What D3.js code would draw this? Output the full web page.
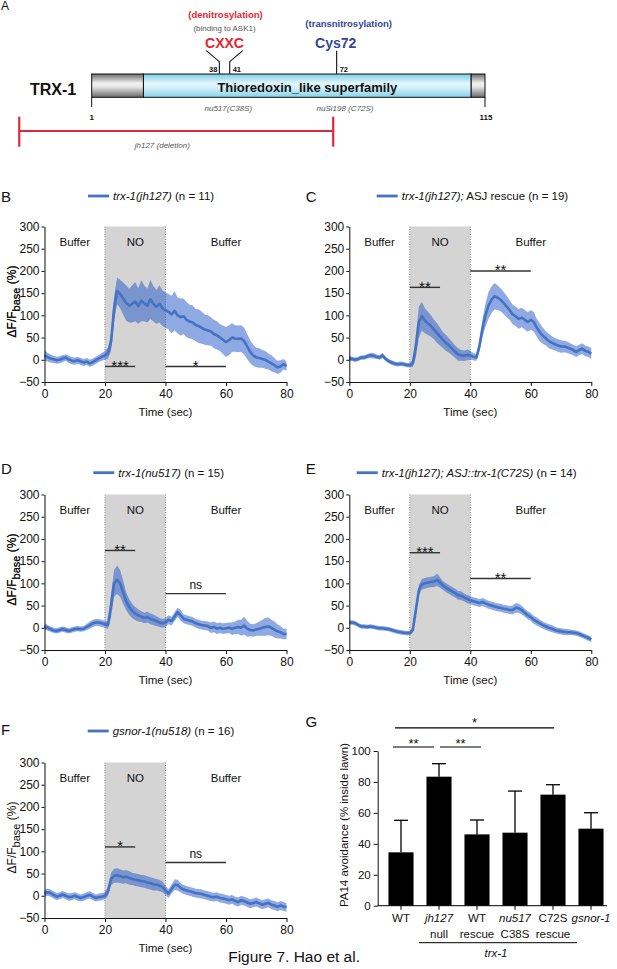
<!doctype html>
<html lang="en">
<head>
<meta charset="utf-8">
<title>Figure 7. Hao et al.</title>
<style>
  body { margin: 0; background: #fff; }
  svg { display: block; font-family: Arial, "Liberation Sans", sans-serif; }
</style>
</head>
<body>
<svg id="fig" width="617" height="969"></svg>
<script src="https://d3js.org/d3.v7.min.js"></script>
<script>
// ---- panel A: TRX-1 domain map (residue numbers) ----
var proteinLength = [1, 115];
var domainStart = [1, 16, 111];
var domainEnd = [16, 111, 115];
var domainKind = ["gray", "cyan", "gray"];
var domainName = ["", "Thioredoxin_like superfamily", ""];
var siteResidues = [38, 41, 72];
var deletionRange = [-20, 71];

// ---- panels B-F: GCaMP traces, one sample per second ----
var time = d3.range(0, 81);
var timeTicks = [0, 20, 40, 60, 80];
var dffTicks = [-50, 0, 50, 100, 150, 200, 250, 300];
var phaseNames = ["Buffer", "NO", "Buffer"];
var phaseBounds = [0, 20, 40, 80];

var bMean = [10,6,3,1,-1,0,3,5,1,-2, -3,-1,-4,-6,-4,-8,-5,-1,3,7,
  10,15,40,115,155,148,138,128,122,126, 131,121,133,127,122,136,126,119,126,116,
  112,108,102,110,100,96,98,90,86,84, 78,76,72,68,66,64,58,55,50,45,
  40,44,50,48,47,48,42,30,18,10, 5,4,2,0,-4,-8,-12,-17,-15,-10, -14];
var bSem = [12,10,9,8,8,8,8,7,8,8, 8,8,8,8,8,8,8,8,8,9, 10,
  12,20,28,30,32,36,40,38,42,44, 40,46,40,38,44,40,38,42,40,40,
  40,42,44,40,42,40,40,38,38,36, 38,36,34,34,32,32,32,30,32,34,
  34,32,30,30,30,30,28,26,24,22, 22,20,20,18,18,16,15,14,12,10];

var cMean = [3,2,0,2,5,5,8,10,9,7, 5,10,2,-3,-6,-9,-10,-9,-10,-12,
  -12,-8,30,85,98,88,82,76,68,60, 52,44,38,32,25,18,12,10,9,11,
  10,7,5,30,70,100,122,135,143,140, 135,128,120,112,102,98,92,95,90,85,
  90,85,72,62,54,48,42,38,35,32, 30,30,28,25,22,18,22,25,20,18, 14];
var cSem = [6,5,5,5,5,5,5,6,6,5, 5,6,5,5,5,5,5,5,5,5, 5,
  8,25,35,32,28,26,24,22,22,20, 18,18,16,15,14,14,12,12,12,10,
  8,8,12,20,26,30,30,30,28,26, 25,24,22,22,22,22,22,22,22,22,
  22,20,20,18,16,16,15,14,14,14, 13,13,12,12,12,12,12,12,12,12];

var dMean = [3,0,-3,-6,-7,-5,-3,-5,-7,-5, -3,-2,-3,-2,2,6,10,12,12,10,
  8,6,50,100,108,100,80,60,47,38, 32,28,25,22,24,20,18,15,12,10,
  12,18,15,25,35,28,20,18,16,14, 10,8,6,5,4,0,2,-2,0,-2,
  -1,0,-2,0,2,0,5,-2,-5,-6, -4,-2,0,2,3,0,-4,-8,-10,-14, -14];
var dSem = [7,6,6,6,6,6,6,6,6,6, 6,6,6,6,7,8,8,8,8,8, 8,
  8,25,30,32,30,26,20,18,16,15, 14,12,12,12,12,12,11,10,10,10,
  10,10,10,10,12,10,10,10,10,10, 10,10,10,10,12,12,12,12,12,12,
  12,14,14,16,18,20,18,14,14,14, 16,18,20,20,18,18,16,14,12,12];

var eMean = [12,12,10,6,3,3,2,3,2,0, -1,-1,-2,-3,-5,-7,-9,-10,-11,-12,
  -12,-5,40,85,98,100,102,103,104,108, 102,95,90,86,82,78,73,72,68,65,
  62,60,58,56,58,55,52,50,48,46, 45,43,42,40,40,45,44,40,34,28,
  24,18,14,10,6,3,0,-2,-5,-7, -8,-9,-10,-10,-11,-12,-14,-17,-20,-23, -26];
var eSem = [5,5,5,5,5,5,5,5,5,5, 5,5,5,5,5,5,5,5,5,5, 5,
  6,10,12,12,12,12,12,12,14,12, 10,10,10,10,10,10,10,9,9,9,
  9,9,9,9,9,9,9,9,9,9, 9,9,9,10,11,10,10,9,9,9,
  9,9,8,8,8,8,8,7,7,7, 7,7,6,6,6,6,6,6,6,6];

var fMean = [5,8,6,2,-2,0,3,0,-3,-2, 0,-3,-5,-3,0,2,-2,-5,-3,-2,
  0,10,38,45,46,44,42,43,40,38, 36,35,33,32,30,28,26,25,23,20,
  12,5,15,25,24,18,14,12,10,8, 6,5,4,2,0,-2,-3,-2,-5,-6,
  -8,-10,-8,-12,-14,-10,-12,-15,-18,-16, -14,-17,-20,-18,-16,-20,-22,-25,-22,-24, -26];
var fSem = [8,8,8,8,8,8,8,8,8,8, 8,8,8,8,8,8,8,8,8,8, 8,
  10,14,16,16,16,15,15,15,14,14, 14,14,14,14,14,14,13,13,12,10,
  10,10,12,12,10,10,10,10,10,10, 10,10,10,10,10,10,10,10,10,10,
  10,10,10,10,10,10,10,10,10,10, 10,10,10,10,10,10,10,10,10,10];

// significance bars: [from sec, to sec, level (%), label]
var bSig = [[20, 30, -15, "***"], [40, 60, -15, "*"]];
var cSig = [[20, 30, 163, "**"], [40, 60, 200, "**"]];
var dSig = [[20, 30, 174, "**"], [40, 60, 77, "ns"]];
var eSig = [[20, 30, 169, "***"], [40, 60, 111, "**"]];
var fSig = [[20, 30, 110, "*"], [40, 60, 75, "ns"]];

// ---- panel G: PA14 avoidance ----
var gCategories = ["WT", "jh127", "WT rescue", "nu517", "C72S", "gsnor-1"];
var gLine1 = ["WT", "jh127", "WT", "nu517", "C72S", "gsnor-1"];
var gLine2 = ["", "null", "rescue", "C38S", "rescue", ""];
var gItalic = [false, true, false, true, false, true];
var gMeans = [34.5, 83.4, 46.1, 47.2, 71.8, 49.8];
var gErrors = [20.7, 8.4, 9.3, 26.9, 6.4, 10.3];
var gTicks = [0, 20, 40, 60, 80, 100];

var svg = d3.select("#fig");
var blue = "#4472c4";
var defs = svg.append("defs");

//Vertical shading gradients for the protein bar
var gGray = defs.append("linearGradient").attr("id", "gray").attr("x1", 0).attr("y1", 0).attr("x2", 0).attr("y2", 1);
[[0, "#6c6c6c"], [0.4, "#f2f2f2"], [0.55, "#e6e6e6"], [1, "#6a6a6a"]].forEach(function(s) {
    gGray.append("stop").attr("offset", s[0]).attr("stop-color", s[1]);
});
var gCyan = defs.append("linearGradient").attr("id", "cyan").attr("x1", 0).attr("y1", 0).attr("x2", 0).attr("y2", 1);
[[0, "#79cce6"], [0.4, "#e4f6fb"], [0.6, "#d2f0f9"], [1, "#84d2ea"]].forEach(function(s) {
    gCyan.append("stop").attr("offset", s[0]).attr("stop-color", s[1]);
});

function txt(x, y, s, size, opts) {
    opts = opts || {};
    return svg.append("text").attr("x", x).attr("y", y).text(s)
        .attr("font-size", size + "px")
        .attr("text-anchor", opts.anchor || "middle")
        .attr("font-weight", opts.bold ? "bold" : null)
        .attr("font-style", opts.italic ? "italic" : null)
        .attr("fill", opts.fill || "#111");
}

// ================= Panel A =================
txt(1, 10, "A", 12, {anchor: "start"});
var rx = d3.scaleLinear().domain(proteinLength).range([91.7, 485]);
var barTop = 74, barBottom = 97.3;

svg.selectAll("rect.domain").data(domainStart).enter().append("rect")
    .attr("class", "domain")
    .attr("x", function(d) { return rx(d); })
    .attr("y", barTop)
    .attr("width", function(d, i) { return rx(domainEnd[i]) - rx(d); })
    .attr("height", barBottom - barTop)
    .attr("fill", function(d, i) { return "url(#" + domainKind[i] + ")"; })
    .attr("stroke", "#111").attr("stroke-width", 1);
domainName.forEach(function(n, i) {
    if (n) txt((rx(domainStart[i]) + rx(domainEnd[i])) / 2, 91.5, n, 13, {bold: true});
});
txt(53, 95, "TRX-1", 16, {bold: true});

// end ticks and residue numbers
proteinLength.forEach(function(r) {
    svg.append("line").attr("x1", rx(r)).attr("x2", rx(r)).attr("y1", barBottom).attr("y2", 107)
        .attr("stroke", "#111").attr("stroke-width", 1);
    txt(rx(r) + (r > 1 ? 1 : 0), 120, String(r), 8, {bold: true});
});

// cysteine sites
var siteBend = [-1, 1, 0];
siteResidues.forEach(function(r, i) {
    var x = rx(r);
    var pts = siteBend[i] === 0 ? [[x, barTop], [x, 50.7]]
        : [[x, barTop], [x, 61.7], [x + siteBend[i] * 13, 50.7]];
    svg.append("path").attr("d", d3.line()(pts)).attr("fill", "none")
        .attr("stroke", "#111").attr("stroke-width", 1.1);
    txt(siteBend[i] < 0 ? x - 2 : x + 3, 71.5, String(r), 7.5, {bold: true, anchor: siteBend[i] < 0 ? "end" : "start"});
});
var cxxcX = (rx(siteResidues[0]) + rx(siteResidues[1])) / 2;
txt(cxxcX + 1, 17.5, "(denitrosylation)", 9.5, {bold: true, fill: "#e3262e"});
txt(cxxcX, 31, "(binding to ASK1)", 8, {fill: "#555"});
txt(cxxcX, 48, "CXXC", 14, {bold: true, fill: "#e3262e"});
txt(rx(siteResidues[2]) + 12, 26.5, "(transnitrosylation)", 9.5, {bold: true, fill: "#34469a"});
txt(rx(siteResidues[2]) - 1, 48, "Cys72", 14, {bold: true, fill: "#34469a"});
txt(228.3, 111, "nu517(C38S)", 8, {italic: true, fill: "#555"});
txt(345, 111, "nuSi198 (C72S)", 8, {italic: true, fill: "#555"});

// jh127 deletion
var red = "#e0283c";
svg.append("line").attr("x1", rx(deletionRange[0])).attr("x2", rx(deletionRange[1]))
    .attr("y1", 131).attr("y2", 131).attr("stroke", red).attr("stroke-width", 2.2);
deletionRange.forEach(function(r) {
    svg.append("line").attr("x1", rx(r)).attr("x2", rx(r)).attr("y1", 116.7).attr("y2", 146.7)
        .attr("stroke", red).attr("stroke-width", 2.2);
});
txt(162.3, 148, "jh127 (deletion)", 8, {italic: true, fill: "#555"});

// ================= Panels B-F =================
var traceW = 242, traceH = 155.5;
var panels = [
    {letter: "B", x0: 44.5, y0: 226.5, letterY: 201.7, legX: 88, legY: 196, mean: bMean, sem: bSem, sig: bSig,
     legend: [["trx-1(jh127)", true], [" (n = 11)", false]]},
    {letter: "C", x0: 349.3, y0: 226.5, letterY: 201.7, legX: 376.7, legY: 196, mean: cMean, sem: cSem, sig: cSig,
     legend: [["trx-1(jh127);", true], [" ASJ rescue (n = 19)", false]]},
    {letter: "D", x0: 44.5, y0: 494.5, letterY: 474, legX: 93.3, legY: 472.7, mean: dMean, sem: dSem, sig: dSig,
     legend: [["trx-1(nu517)", true], [" (n = 15)", false]]},
    {letter: "E", x0: 349.3, y0: 494.5, letterY: 474, legX: 356.7, legY: 472.7, mean: eMean, sem: eSem, sig: eSig,
     legend: [["trx-1(jh127); ASJ::trx-1(C72S)", true], [" (n = 14)", false]]},
    {letter: "F", x0: 44.5, y0: 762.5, letterY: 735, legX: 87.7, legY: 731, mean: fMean, sem: fSem, sig: fSig,
     legend: [["gsnor-1(nu518)", true], [" (n = 16)", false]]}
];

function styleAxis(g, size) {
    g.selectAll("path, line").attr("stroke", "#111").attr("stroke-width", 1);
    g.selectAll("text").attr("font-size", size + "px").attr("fill", "#111")
        .attr("font-family", 'Arial, "Liberation Sans", sans-serif');
}

panels.forEach(function(p) {
    var x = d3.scaleLinear().domain([0, 80]).range([p.x0, p.x0 + traceW]);
    var y = d3.scaleLinear().domain([-50, 300]).range([p.y0 + traceH, p.y0]);
    var g = svg.append("g");

    //NO application window
    g.append("rect").attr("x", x(phaseBounds[1])).attr("y", y(300))
        .attr("width", x(phaseBounds[2]) - x(phaseBounds[1]))
        .attr("height", y(-50) - y(300)).attr("fill", "#d4d4d4");
    [phaseBounds[1], phaseBounds[2]].forEach(function(t) {
        g.append("line").attr("x1", x(t)).attr("x2", x(t)).attr("y1", y(300)).attr("y2", y(-50))
            .attr("stroke", "#8a8a8a").attr("stroke-width", 1).attr("stroke-dasharray", "1,1.5");
    });
    phaseNames.forEach(function(n, i) {
        g.append("text").attr("x", x((phaseBounds[i] + phaseBounds[i + 1]) / 2)).attr("y", p.y0 + 19.5)
            .attr("text-anchor", "middle").attr("font-size", "11.5px").attr("fill", "#111").text(n);
    });

    var rows = time.map(function(t, i) { return {t: t, m: p.mean[i], s: p.sem[i]}; });
    g.append("path").datum(rows)
        .attr("d", d3.area().x(function(d) { return x(d.t); })
            .y0(function(d) { return y(d.m - d.s); })
            .y1(function(d) { return y(d.m + d.s); }))
        .attr("fill", "rgb(40,90,200)").attr("fill-opacity", 0.52);
    g.append("path").datum(rows)
        .attr("d", d3.line().x(function(d) { return x(d.t); }).y(function(d) { return y(d.m); }))
        .attr("fill", "none").attr("stroke", blue).attr("stroke-width", 2.6).attr("stroke-linejoin", "round");

    // axes
    var ya = g.append("g").attr("transform", "translate(" + p.x0 + ",0)")
        .call(d3.axisLeft(y).tickValues(dffTicks).tickSize(3).tickSizeOuter(0).tickPadding(2));
    styleAxis(ya, 12);
    var xa = g.append("g").attr("transform", "translate(0," + y(-50) + ")")
        .call(d3.axisBottom(x).tickValues(timeTicks).tickSize(4).tickSizeOuter(0).tickPadding(3));
    styleAxis(xa, 12);

    g.append("text").attr("x", x(40)).attr("y", y(-50) + 33.5).attr("text-anchor", "middle")
        .attr("font-size", "11.5px").attr("fill", "#111").text("Time (sec)");
    var yl = g.append("text").attr("transform", "translate(16," + (p.y0 + 75) + ") rotate(-90)")
        .attr("text-anchor", "middle").attr("font-size", "12px").attr("fill", "#111");
    yl.append("tspan").text("\u0394F/F");
    yl.append("tspan").attr("font-size", "11px").attr("dy", 3.5).text("base");
    yl.append("tspan").attr("dy", -3.5).text(" (%)");

    // significance
    p.sig.forEach(function(s) {
        g.append("line").attr("x1", x(s[0])).attr("x2", x(s[1])).attr("y1", y(s[2])).attr("y2", y(s[2]))
            .attr("stroke", "#333").attr("stroke-width", 1.4);
        var isNs = s[3] === "ns";
        g.append("text").attr("x", x((s[0] + s[1]) / 2)).attr("y", y(s[2]) + (isNs ? -4.5 : 4.2))
            .attr("text-anchor", "middle").attr("font-size", isNs ? "12px" : "15px")
            .attr("fill", "#111").text(s[3]);
    });

    // letter and legend
    txt(p.x0 - 43.5, p.letterY, p.letter, 15, {anchor: "start"});
    g.append("line").attr("x1", p.legX).attr("x2", p.legX + 21).attr("y1", p.legY).attr("y2", p.legY)
        .attr("stroke", blue).attr("stroke-width", 2.8);
    var lt = g.append("text").attr("x", p.legX + 25).attr("y", p.legY + 4).attr("font-size", "11.5px").attr("fill", "#111");
    p.legend.forEach(function(part) {
        lt.append("tspan").attr("font-style", part[1] ? "italic" : "normal").text(part[0]);
    });
});

// ================= Panel G =================
txt(305.5, 727, "G", 15, {anchor: "start"});
var gx = d3.scaleBand().domain(gCategories).range([382, 610]).paddingInner(0.34).paddingOuter(0.17);
var gy = d3.scaleLinear().domain([0, 100]).range([905.7, 751]);
var gG = svg.append("g");
var bw = gx.bandwidth();

gG.selectAll("rect.bar").data(gCategories).enter().append("rect")
    .attr("class", "bar")
    .attr("x", function(d) { return gx(d); })
    .attr("width", bw)
    .attr("y", function(d, i) { return gy(gMeans[i]); })
    .attr("height", function(d, i) { return gy(0) - gy(gMeans[i]); })
    .attr("fill", "#000");
gCategories.forEach(function(c, i) {
    var cx = gx(c) + bw / 2;
    gG.append("line").attr("x1", cx).attr("x2", cx).attr("y1", gy(gMeans[i])).attr("y2", gy(gMeans[i] + gErrors[i]))
        .attr("stroke", "#000").attr("stroke-width", 1.3);
    gG.append("line").attr("x1", cx - 7).attr("x2", cx + 7)
        .attr("y1", gy(gMeans[i] + gErrors[i])).attr("y2", gy(gMeans[i] + gErrors[i]))
        .attr("stroke", "#000").attr("stroke-width", 1.3);
    gG.append("line").attr("x1", cx).attr("x2", cx).attr("y1", gy(0)).attr("y2", gy(0) + 4)
        .attr("stroke", "#000").attr("stroke-width", 1);
    gG.append("text").attr("x", cx).attr("y", 922.4).attr("text-anchor", "middle").attr("font-size", "11.5px")
        .attr("font-style", gItalic[i] ? "italic" : null).attr("fill", "#111").text(gLine1[i]);
    gG.append("text").attr("x", cx).attr("y", 938).attr("text-anchor", "middle").attr("font-size", "11.5px")
        .attr("fill", "#111").text(gLine2[i]);
});
gG.append("line").attr("x1", 377.7).attr("x2", 607).attr("y1", gy(0)).attr("y2", gy(0))
    .attr("stroke", "#000").attr("stroke-width", 1);
var gya = gG.append("g").attr("transform", "translate(377.7,0)")
    .call(d3.axisLeft(gy).tickValues(gTicks).tickSize(4).tickSizeOuter(0).tickPadding(3));
styleAxis(gya, 11.5);
gG.append("text").attr("transform", "translate(348,825) rotate(-90)").attr("text-anchor", "middle")
    .attr("font-size", "11.5px").attr("fill", "#111").text("PA14 avoidance (% inside lawn)");

// trx-1 group bracket
var gFirst = gx(gCategories[1]) + bw / 2, gLast = gx(gCategories[4]) + bw / 2;
gG.append("line").attr("x1", gFirst - 20).attr("x2", gLast + 24).attr("y1", 942.7).attr("y2", 942.7)
    .attr("stroke", "#000").attr("stroke-width", 1);
gG.append("text").attr("x", (gFirst + gLast) / 2).attr("y", 957).attr("text-anchor", "middle")
    .attr("font-size", "11.5px").attr("font-style", "italic").attr("fill", "#111").text("trx-1");

// G significance
var gSig = [[0, 4, 115, "*", -6, 1], [0, 1, 102.6, "**", -8, -5], [1, 2, 102.6, "**", 1, 4]];
gSig.forEach(function(s) {
    var x1 = gx(gCategories[s[0]]) + bw / 2 + s[4], x2 = gx(gCategories[s[1]]) + bw / 2 + s[5];
    gG.append("line").attr("x1", x1).attr("x2", x2).attr("y1", gy(s[2])).attr("y2", gy(s[2]))
        .attr("stroke", "#000").attr("stroke-width", 1.2);
    gG.append("text").attr("x", (x1 + x2) / 2).attr("y", gy(s[2]) + (s[3] === "*" ? -0.5 : 0.8))
        .attr("text-anchor", "middle").attr("font-size", "13px").attr("fill", "#111").text(s[3]);
});

// caption
txt(360, 962, "Figure 7. Hao et al.", 15.5, {anchor: "end"});
</script>
</body>
</html>
